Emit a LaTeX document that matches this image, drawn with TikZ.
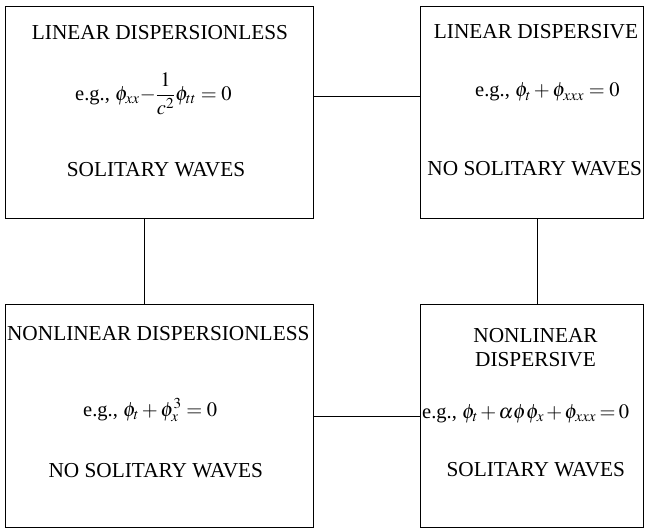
\documentclass[tikz,border=0pt]{standalone}
\usepackage{mathptmx}
\usepackage[no-math]{fontspec}
\setmainfont{Liberation Serif}
\usetikzlibrary{calc}
\begin{document}
\begin{tikzpicture}[x=1bp,y=-1bp,
  panel/.style={draw, line width=1bp, inner sep=0pt, anchor=north west},
  lbl/.style={font=\fontsize{21.3bp}{24bp}\selectfont, inner sep=0pt, align=center},
  eqn/.style={font=\fontsize{20.5bp}{24bp}\selectfont, inner sep=0pt, anchor=base west},
  link/.style={line width=1bp}]
\useasboundingbox (0,0) rectangle (647,529);

% the four regimes
\node[panel, minimum width=308bp, minimum height=212bp] (tl) at (5,6) {};
\node[panel, minimum width=223bp, minimum height=212bp] (tr) at (420,6) {};
\node[panel, minimum width=308bp, minimum height=223bp] (bl) at (5,304) {};
\node[panel, minimum width=223bp, minimum height=223bp] (br) at (420,304) {};

% linear dispersionless
\node[lbl] (tlhead) at (160,32.8) {LINEAR DISPERSIONLESS};
\node[eqn] (tleq) at (75,100.5) {e.g., $\phi_{xx}{-}{\displaystyle\frac{1}{c^2}}\phi_{tt} = 0$};
\node[lbl] (tlfoot) at (156,169.7) {SOLITARY WAVES};

% linear dispersive
\node[lbl] (trhead) at (536,32) {LINEAR DISPERSIVE};
\node[eqn] (treq) at (475,97) {e.g., $\phi_t + \phi_{xxx} = 0$};
\node[lbl] (trfoot) at (534.7,169) {NO SOLITARY WAVES};

% nonlinear dispersionless
\node[lbl] (blhead) at (158.3,333.7) {NONLINEAR DISPERSIONLESS};
\node[eqn] (bleq) at (83,416) {e.g., $\phi_t + \phi_x^3 = 0$};
\node[lbl] (blfoot) at (155.8,471) {NO SOLITARY WAVES};

% nonlinear dispersive
\node[lbl] (brhead) at (535.5,348) {NONLINEAR\\DISPERSIVE};
\node[eqn] (breq) at (422,418.3)
  {e.g., $\medmuskip=2mu\thickmuskip=3mu\phi_t + \alpha\phi\phi_x + \phi_{xxx} = 0$};
\node[lbl] (brfoot) at (535.8,469.7) {SOLITARY WAVES};

% connectors
\draw[link] ($(tl.north east)!0.425!(tl.south east)$) -- ($(tr.north west)!0.425!(tr.south west)$);
\draw[link] (bl.east) -- (br.west);
\draw[link] ($(tl.south west)!0.451!(tl.south east)$) -- ($(bl.north west)!0.451!(bl.north east)$);
\draw[link] ($(tr.south west)!0.525!(tr.south east)$) -- ($(br.north west)!0.525!(br.north east)$);
\end{tikzpicture}
\end{document}
